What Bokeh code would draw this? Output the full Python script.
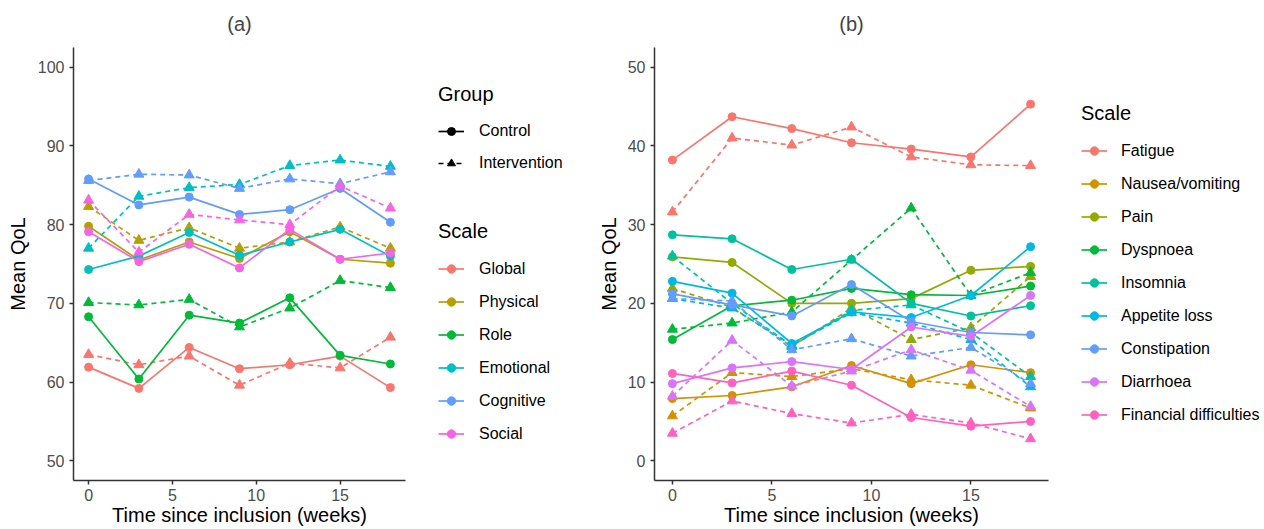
from bokeh.plotting import figure
from bokeh.layouts import row
from bokeh.models import Range1d, Legend, LegendItem, FixedTicker
from bokeh.embed import file_html
from bokeh.resources import INLINE

weeks = [0, 3, 6, 9, 12, 15, 18]

# ---- Panel (a): functional scales ----
a_scales = ["Global", "Physical", "Role", "Emotional", "Cognitive", "Social"]
a_colors = ["#F8766D", "#B79F00", "#00BA38", "#00BFC4", "#619CFF", "#F564E3"]
global_control = [61.9, 59.2, 64.4, 61.7, 62.2, 63.3, 59.3]
global_intervention = [63.5, 62.2, 63.3, 59.6, 62.4, 61.8, 65.7]
physical_control = [79.8, 75.5, 77.8, 75.7, 79.1, 75.6, 75.1]
physical_intervention = [82.3, 78.0, 79.6, 77.0, 77.8, 79.7, 77.0]
role_control = [68.3, 60.4, 68.5, 67.5, 70.7, 63.4, 62.3]
role_intervention = [70.1, 69.8, 70.5, 67.0, 69.4, 72.9, 72.0]
emotional_control = [74.3, 76.0, 79.0, 76.1, 77.8, 79.4, 76.0]
emotional_intervention = [77.0, 83.6, 84.7, 85.1, 87.5, 88.2, 87.4]
cognitive_control = [85.8, 82.5, 83.5, 81.3, 81.9, 84.6, 80.3]
cognitive_intervention = [85.6, 86.4, 86.3, 84.6, 85.8, 85.2, 86.7]
social_control = [79.1, 75.3, 77.5, 74.5, 79.4, 75.6, 76.4]
social_intervention = [83.1, 76.5, 81.3, 80.6, 80.0, 84.9, 82.1]
a_yticks = [50, 60, 70, 80, 90, 100]

# ---- Panel (b): symptom scales ----
b_scales = ["Fatigue", "Nausea/vomiting", "Pain", "Dyspnoea", "Insomnia",
            "Appetite loss", "Constipation", "Diarrhoea", "Financial difficulties"]
b_colors = ["#F8766D", "#D39200", "#93AA00", "#00BA38", "#00C19F",
            "#00B9E3", "#619CFF", "#DB72FB", "#FF61C3"]
fatigue_control = [38.2, 43.7, 42.2, 40.4, 39.6, 38.6, 45.3]
fatigue_intervention = [31.6, 41.0, 40.1, 42.4, 38.6, 37.6, 37.5]
nausea_control = [7.9, 8.3, 9.4, 12.1, 9.8, 12.2, 11.2]
nausea_intervention = [5.7, 11.2, 10.7, 11.7, 10.3, 9.6, 6.7]
pain_control = [25.9, 25.2, 20.0, 20.0, 20.6, 24.2, 24.7]
pain_intervention = [21.9, 19.5, 14.5, 19.4, 15.4, 16.9, 23.4]
dyspnoea_control = [15.4, 19.7, 20.4, 21.9, 21.1, 21.0, 22.2]
dyspnoea_intervention = [16.7, 17.5, 18.9, 25.5, 32.1, 21.0, 23.9]
insomnia_control = [28.7, 28.2, 24.3, 25.6, 20.0, 18.4, 19.7]
insomnia_intervention = [26.0, 20.0, 14.6, 19.1, 19.8, 16.3, 10.7]
appetite_control = [22.8, 21.3, 14.9, 18.9, 18.2, 21.0, 27.2]
appetite_intervention = [20.6, 19.4, 14.7, 18.8, 17.5, 15.4, 9.4]
constipation_control = [21.2, 19.8, 18.4, 22.4, 17.7, 16.3, 16.0]
constipation_intervention = [20.6, 20.3, 14.1, 15.5, 13.3, 14.4, 9.8]
diarrhoea_control = [9.8, 11.8, 12.6, 11.6, 17.0, 15.8, 21.0]
diarrhoea_intervention = [8.2, 15.3, 9.5, 11.4, 14.1, 11.5, 6.9]
financial_control = [11.1, 9.9, 11.4, 9.6, 5.5, 4.4, 5.0]
financial_intervention = [3.5, 7.6, 6.0, 4.8, 5.9, 4.8, 2.8]
b_yticks = [0, 10, 20, 30, 40, 50]

x_ticks = [0, 5, 10, 15]
groups = ["Control", "Intervention"]

a_control = [global_control, physical_control, role_control,
             emotional_control, cognitive_control, social_control]
a_interv = [global_intervention, physical_intervention, role_intervention,
            emotional_intervention, cognitive_intervention, social_intervention]
b_control = [fatigue_control, nausea_control, pain_control, dyspnoea_control,
             insomnia_control, appetite_control, constipation_control,
             diarrhoea_control, financial_control]
b_interv = [fatigue_intervention, nausea_intervention, pain_intervention,
            dyspnoea_intervention, insomnia_intervention, appetite_intervention,
            constipation_intervention, diarrhoea_intervention, financial_intervention]

FONT = "Liberation Sans"
H = 529
DASH = "5 4"
LW = 1.7
CIRC = 8
TRI = 10
# legend key renderers live outside the (0..1) view of the legend panel
OFF_X = [5, 6]
OFF_Y = [5, 5]


def style_axes(p, ylabel_standoff):
    for ax in (p.xaxis[0], p.yaxis[0]):
        ax.axis_line_color = "#333333"
        ax.axis_line_width = 1.5
        ax.major_tick_line_color = "#333333"
        ax.major_tick_line_width = 1.5
        ax.major_tick_in = 0
        ax.major_tick_out = 4
        ax.minor_tick_line_color = None
        ax.major_label_text_font = FONT
        ax.major_label_text_font_size = "16px"
        ax.major_label_text_color = "#4D4D4D"
        ax.axis_label_text_font = FONT
        ax.axis_label_text_font_size = "20px"
        ax.axis_label_text_font_style = "normal"
        ax.axis_label_text_color = "black"
    p.xaxis[0].major_label_standoff = 4
    p.xaxis[0].axis_label_standoff = 0
    p.yaxis[0].major_label_standoff = 5
    p.yaxis[0].axis_label_standoff = ylabel_standoff
    p.xgrid.grid_line_color = None
    p.ygrid.grid_line_color = None
    p.outline_line_color = None


def legend_style(leg, glyph_h, label_standoff):
    leg.title_text_font = FONT
    leg.title_text_font_size = "20px"
    leg.title_text_font_style = "normal"
    leg.title_text_color = "black"
    leg.title_standoff = 15
    leg.label_text_font = FONT
    leg.label_text_font_size = "16px"
    leg.label_text_color = "black"
    leg.label_standoff = label_standoff
    leg.glyph_width = 26
    leg.glyph_height = glyph_h
    leg.label_height = glyph_h
    leg.spacing = 12
    leg.padding = 0
    leg.margin = 0
    leg.border_line_alpha = 0
    leg.background_fill_alpha = 0


def make_panel(title, colors, controls, intervs, yr, yticks, width, left, frame_w,
               ylabel_standoff):
    p = figure(width=width, height=H, title=title,
               x_range=Range1d(-0.9, 18.9), y_range=Range1d(*yr),
               output_backend="svg", toolbar_location=None,
               min_border_left=left, min_border_right=width - left - frame_w,
               min_border_top=47, min_border_bottom=49,
               x_axis_label="Time since inclusion (weeks)", y_axis_label="Mean QoL")
    p.title.text_font = FONT
    p.title.text_font_size = "20px"
    p.title.text_font_style = "normal"
    p.title.align = "center"
    p.title.vertical_align = "top"
    p.title.standoff = 22
    p.xaxis.ticker = FixedTicker(ticks=x_ticks)
    p.yaxis.ticker = FixedTicker(ticks=yticks)
    style_axes(p, ylabel_standoff)

    for col, c_vals, i_vals in zip(colors, controls, intervs):
        p.line(weeks, i_vals, color=col, line_width=LW, line_dash=DASH)
        p.line(weeks, c_vals, color=col, line_width=LW)
        p.scatter(weeks, i_vals, marker="triangle", size=TRI, color=col)
        p.scatter(weeks, c_vals, marker="circle", size=CIRC, color=col)
    return p


def legend_panel(width, scales, colors, x0, scale_bottom, label_standoff,
                 group_bottom=None):
    lp = figure(width=width, height=H, x_range=Range1d(0, 1), y_range=Range1d(0, 1),
                output_backend="svg", toolbar_location=None,
                x_axis_location=None, y_axis_location=None,
                min_border_left=0, min_border_right=0,
                min_border_top=0, min_border_bottom=0)
    lp.xgrid.grid_line_color = None
    lp.ygrid.grid_line_color = None
    lp.outline_line_color = None

    items = []
    for name, col in zip(scales, colors):
        kl = lp.line(x=OFF_X, y=OFF_Y, color=col, line_width=LW)
        kc = lp.scatter(x=OFF_X, y=OFF_Y, marker="circle", size=CIRC, color=col)
        items.append(LegendItem(label=name, renderers=[kl, kc]))
    leg = Legend(items=items, title="Scale", location=(x0, H - scale_bottom))
    legend_style(leg, 21, label_standoff)
    lp.add_layout(leg, "center")

    if group_bottom is not None:
        g_items = []
        for g, dash, mk, sz in zip(groups, ["solid", DASH], ["circle", "triangle"],
                                   [CIRC, TRI]):
            gl = lp.line(x=OFF_X, y=OFF_Y, color="black", line_width=LW, line_dash=dash)
            gs = lp.scatter(x=OFF_X, y=OFF_Y, marker=mk, size=sz, color="black")
            g_items.append(LegendItem(label=g, renderers=[gl, gs]))
        gleg = Legend(items=g_items, title="Group", location=(x0, H - group_bottom))
        legend_style(gleg, 20, label_standoff)
        lp.add_layout(gleg, "center")
    return lp


pa = make_panel("(a)", a_colors, a_control, a_interv, (47.5, 102.5), a_yticks,
                430, 73, 332, 6)
la = legend_panel(164, a_scales, a_colors, 8, 493, 15, group_bottom=222)
pb = make_panel("(b)", b_colors, b_control, b_interv, (-2.5, 52.5), b_yticks,
                476, 54, 400, 5)
lb = legend_panel(194, b_scales, b_colors, 11, 474, 14)

layout = row(pa, la, pb, lb)
open("out.html", "w").write(file_html(layout, INLINE))
